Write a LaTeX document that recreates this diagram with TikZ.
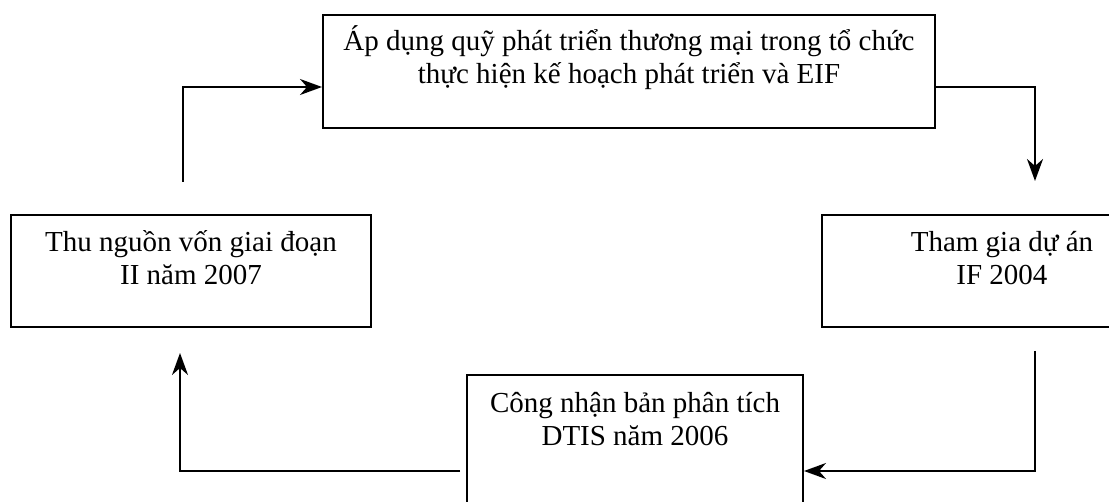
\documentclass[tikz,border=0pt]{standalone}
\usepackage{fontspec}
\setmainfont{Liberation Serif}
\usetikzlibrary{arrows.meta,calc,positioning}

\begin{document}
\begin{tikzpicture}[x=0.5pt,y=-0.5pt,
  box/.style={draw, line width=1pt, inner sep=0pt},
  txt/.style={align=center, inner sep=0pt, anchor=north, font=\fontsize{14.5}{16.5}\selectfont},
  flow/.style={line width=1pt, -{Stealth[length=11pt,width=8pt,inset=3.5pt]}}]
  \useasboundingbox (0,0) rectangle (1109,502);
  \clip (0,0) rectangle (1109,502);
  % boxes
  \node[box, minimum width=306pt, minimum height=56.5pt] (fund) at (629,71.5) {};
  \node[box, minimum width=180pt, minimum height=56pt] (collect) at (191,271) {};
  \node[box, minimum width=180pt, minimum height=56pt] (join) at (1002,271) {};
  \node[box, minimum width=168pt, minimum height=70pt] (dtis) at (635,445) {};
  % texts
  \node[txt] (fundtxt) at ($(fund.north)+(0,7)$) {\rule{0pt}{1em}Áp dụng quỹ phát triển thương mại trong tổ chức\\thực hiện kế hoạch phát triển và EIF};
  \node[txt] (collecttxt) at ($(collect.north)+(0,8)$) {\rule{0pt}{1em}Thu nguồn vốn giai đoạn\\II năm 2007};
  \node[txt] (jointxt) at ($(join.north)+(0,8)$) {\rule{0pt}{1em}Tham gia dự án\\IF 2004};
  \node[txt] (dtistxt) at ($(dtis.north)+(0,9)$) {\rule{0pt}{1em}Công nhận bản phân tích\\DTIS năm 2006};
  % connectors
  \draw[flow] ($(collect.north)+(-8,-32)$) |- ($(fund.west)+(0,15.5)$);
  \draw[flow] ($(fund.east)+(0,15.5)$) -| ($(join.north)+(33,-33)$);
  \draw[flow] ($(join.south)+(33,23)$) |- ($(dtis.east)+(0,26)$);
  \draw[flow] ($(dtis.west)+(-6,26)$) -| ($(collect.south)+(-11,25)$);
\end{tikzpicture}
\end{document}
